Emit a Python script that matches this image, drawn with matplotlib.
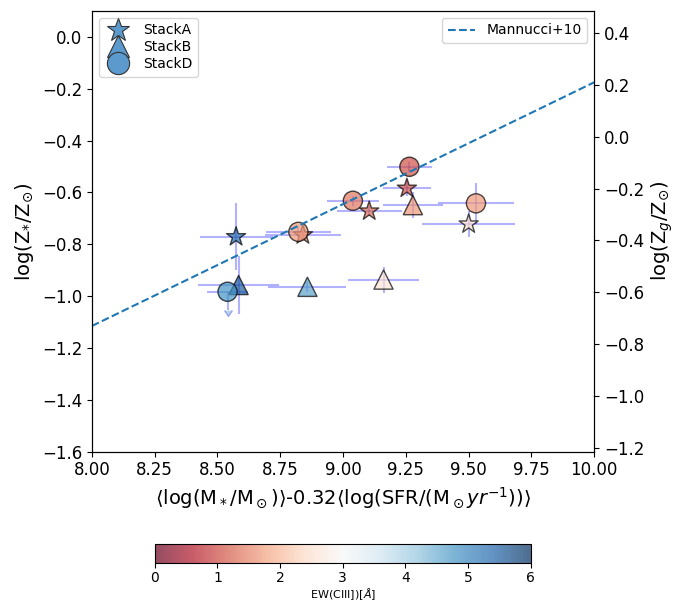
import matplotlib
matplotlib.use("Agg")
import matplotlib.pyplot as plt
import numpy as np
from matplotlib.lines import Line2D

# StackA (stars)
a_x = [8.574, 8.840, 9.104, 9.254, 9.500]
a_y = [-0.771, -0.764, -0.672, -0.584, -0.722]
a_xerr = [0.145, 0.15, 0.13, 0.095, 0.185]
a_yerr = [0.13, 0.02, 0.02, 0.03, 0.05]
a_ew = [5.3, 1.5, 1.3, 1.1, 2.5]

# StackB (triangles)
b_x = [8.584, 8.858, 9.161, 9.278]
b_y = [-0.957, -0.964, -0.936, -0.649]
b_xerr = [0.16, 0.155, 0.14, 0.12]
b_yerr = [0.11, 0.02, 0.05, 0.05]
b_ew = [5.5, 4.6, 2.6, 1.7]

# StackD (circles)
d_x = [8.540, 8.822, 9.039, 9.264, 9.529]
d_y = [-0.983, -0.752, -0.632, -0.501, -0.642]
d_xerr = [0.08, 0.13, 0.105, 0.09, 0.15]
d_yerr = [0.07, 0.02, 0.02, 0.02, 0.08]
d_ew = [4.8, 1.7, 1.4, 1.1, 1.7]
d_uplim = [True, False, False, False, False]

# Mannucci+10 low-mass FMR, in log(Zg/Zsun)
mu = np.array([8.0, 10.0])
mannucci = 0.21 + 0.47 * (mu - 10.0)

fig = plt.figure(figsize=(6.91, 6.08), dpi=100)
ax = fig.add_axes([0.133, 0.257, 0.727, 0.725])

cmap = plt.get_cmap('RdBu')
norm = matplotlib.colors.Normalize(vmin=0, vmax=6)

ax.errorbar(a_x, a_y, xerr=a_xerr, yerr=a_yerr, fmt='none', ecolor='b', alpha=0.3, zorder=1)
ax.errorbar(b_x, b_y, xerr=b_xerr, yerr=b_yerr, fmt='none', ecolor='b', alpha=0.3, zorder=1)
ax.errorbar(d_x, d_y, xerr=d_xerr, yerr=d_yerr, uplims=d_uplim, fmt='none', ecolor='b', alpha=0.3, zorder=1)

sc = ax.scatter(a_x, a_y, c=a_ew, cmap=cmap, norm=norm, marker='*', s=210, alpha=0.7,
                edgecolors='k', linewidths=1, zorder=3)
ax.scatter(b_x, b_y, c=b_ew, cmap=cmap, norm=norm, marker='^', s=190, alpha=0.7,
           edgecolors='k', linewidths=1, zorder=3)
ax.scatter(d_x, d_y, c=d_ew, cmap=cmap, norm=norm, marker='o', s=190, alpha=0.7,
           edgecolors='k', linewidths=1, zorder=3)

ax.set_xlim(8.0, 10.0)
ax.set_ylim(-1.6, 0.1)
ax.set_xlabel(r'$\langle$log(M$_*$/M$_\odot$)$\rangle$-0.32$\langle$log(SFR/(M$_\odot yr^{-1}$))$\rangle$', fontsize=14)
ax.set_ylabel(r'log(Z$_{*}$/Z$_{\odot}$)', fontsize=14)
ax.tick_params(labelsize=12)

fc = (0.36, 0.6, 0.8)
handles = [
    Line2D([], [], marker='*', ls='none', ms=17, mfc=fc, mec='0.2', mew=0.8),
    Line2D([], [], marker='^', ls='none', ms=16, mfc=fc, mec='0.2', mew=0.8),
    Line2D([], [], marker='o', ls='none', ms=16, mfc=fc, mec='0.2', mew=0.8),
]
ax.legend(handles, ['StackA', 'StackB', 'StackD'], loc='upper left', fontsize=10,
          handletextpad=0.8, labelspacing=0.2, borderpad=0.4)

ax2 = ax.twinx()
ax2.plot(mu, mannucci, '--', color='#1f77b4', lw=1.5, label='Mannucci+10')
ax2.set_ylim(-1.215, 0.485)
ax2.set_ylabel(r'log(Z$_g$/Z$_{\odot}$)', fontsize=14)
ax2.tick_params(labelsize=12)
ax2.legend(loc='upper right', fontsize=10)

cax = fig.add_axes([0.224, 0.0735, 0.544, 0.031])
cb = fig.colorbar(sc, cax=cax, orientation='horizontal')
cb.set_label(r'EW(CIII])[$\AA$]', fontsize=8, labelpad=1)
cb.ax.tick_params(labelsize=10, pad=2)

fig.savefig('out.png', dpi=100)
